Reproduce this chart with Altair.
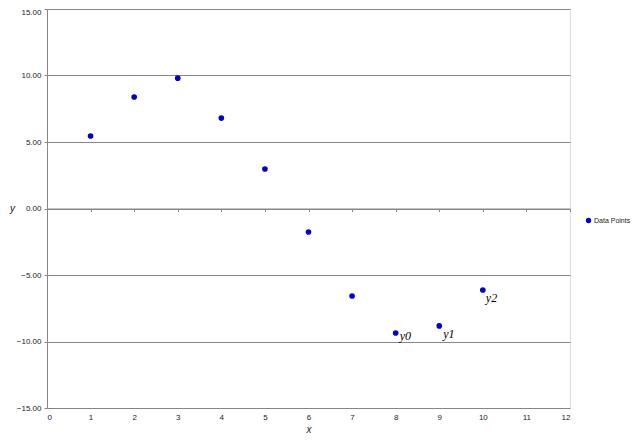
import altair as alt
import pandas as pd

xs = [1, 2, 3, 4, 5, 6, 7, 8, 9, 10]
ys = [5.45, 8.38, 9.8, 6.8, 2.97, -1.77, -6.58, -9.36, -8.83, -6.13]
series = ["Data Points"] * len(xs)

label_x = [8, 9, 10]
label_y = [-9.36, -8.83, -6.13]
label_text = ["y0", "y1", "y2"]

df = pd.DataFrame({"x": xs, "y": ys, "series": series})
ldf = pd.DataFrame({"x": label_x, "y": label_y, "t": label_text})

xscale = alt.Scale(domain=[0, 12], nice=False)
yscale = alt.Scale(domain=[-15, 15], nice=False)

points = alt.Chart(df).mark_circle(size=32, opacity=1).encode(
    x=alt.X("x:Q", scale=xscale, title="x",
            axis=alt.Axis(values=list(range(0, 13)), grid=False, orient="bottom",
                          offset=-199.5, domainColor="#868686", tickColor="#868686",
                          tickSize=3, labelPadding=202, labelFontSize=8,
                          labelFont="Liberation Sans", labelColor="#222",
                          titleFont="Liberation Sans", titleFontStyle="italic",
                          titleFontWeight="normal", titleFontSize=10,
                          titleY=221, titleBaseline="middle",
                          titleColor="#222")),
    y=alt.Y("y:Q", scale=yscale, title="y",
            axis=alt.Axis(values=[-15, -10, -5, 0, 5, 10, 15], format=".2f",
                          gridColor="#868686", gridWidth=1, domainColor="#868686",
                          tickColor="#868686", tickSize=3, labelPadding=3,
                          labelBaseline={"condition": {"test": "datum.value == 15", "value": "top"},
                                         "value": "middle"},
                          labelOffset={"condition": {"test": "datum.value == 15", "value": -1},
                                       "value": 0},
                          labelFontSize=8, labelFont="Liberation Sans", labelColor="#222",
                          titleAngle=0, titleX=-35, titleY=204, titleAlign="center",
                          titleFont="Liberation Sans", titleFontStyle="italic",
                          titleFontWeight="normal", titleFontSize=10, titleColor="#222")),
    color=alt.Color("series:N", scale=alt.Scale(range=["#0000CC"]),
                    legend=alt.Legend(title=None, orient="none", legendX=538, legendY=208,
                                      symbolType="circle", symbolSize=28, labelOffset=2,
                                      labelFont="Liberation Sans", labelFontSize=7,
                                      labelColor="#222")),
)

offsets = {"y0": (4, 3), "y1": (4, 8), "y2": (3, 8)}
texts = []
for t, (dx, dy) in offsets.items():
    texts.append(
        alt.Chart(ldf).transform_filter(alt.datum.t == t).mark_text(
            align="left", baseline="middle", dx=dx, dy=dy, fontSize=12,
            font="Liberation Serif", fontStyle="italic", color="#000"
        ).encode(x=alt.X("x:Q", scale=xscale), y=alt.Y("y:Q", scale=yscale), text="t:N")
    )

chart = alt.layer(points, *texts).properties(
    width=523, height=399,
    autosize=alt.AutoSizeParams(type="none"),
    padding={"left": 39, "top": 1, "right": 62, "bottom": 31},
).configure_view(stroke=None).configure(background="white")

chart.save("out.html", embed_options={"renderer": "svg", "actions": False})
